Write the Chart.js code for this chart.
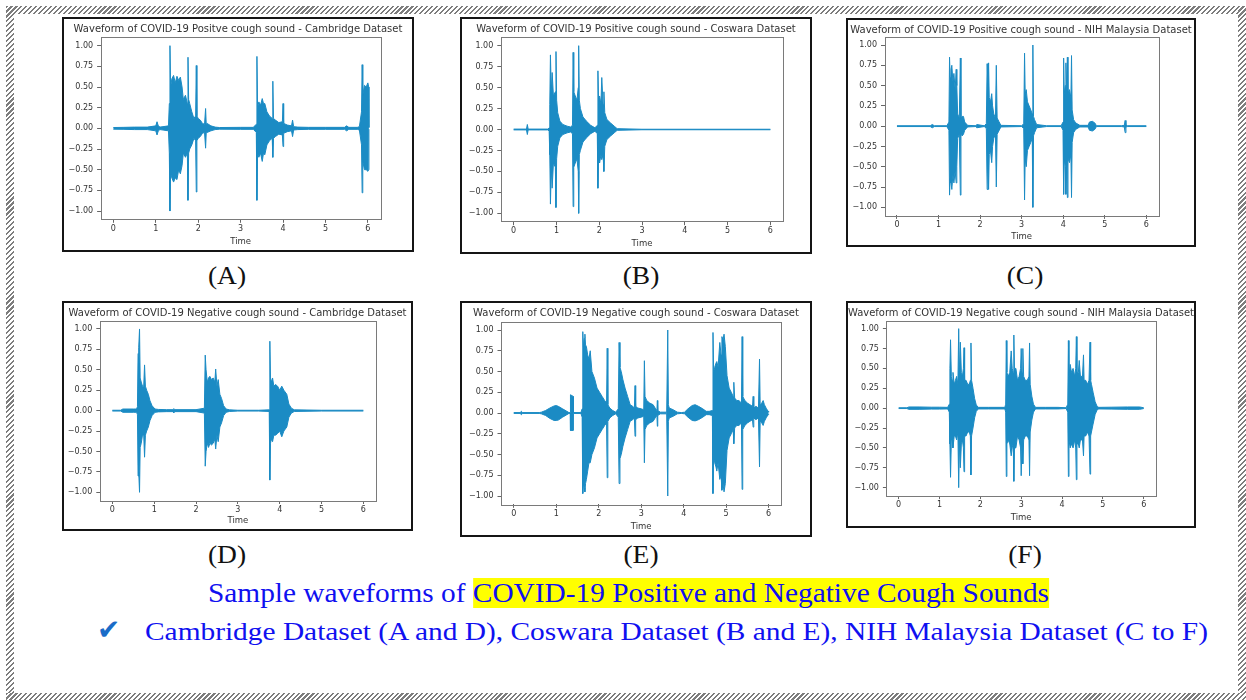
<!DOCTYPE html>
<html>
<head>
<meta charset="utf-8">
<script src="https://cdn.jsdelivr.net/npm/chart.js@4.4.1/dist/chart.umd.min.js"></script>
<style>
  body { margin: 0; width: 1246px; height: 700px; background: #fff; position: relative; overflow: hidden; }
  .hatch { position: absolute; background: repeating-linear-gradient(135deg, #7d7d7d 0 1.5px, #fff 1.5px 3.5px); }
  .panel { position: absolute; box-sizing: border-box; border: 2px solid #151515; background: #fff; }
  .panel canvas { display: block; }
  .txt { position: absolute; font-family: 'Liberation Serif', 'Times New Roman', serif; white-space: nowrap; line-height: 1; }
</style>
</head>
<body>
<div class="hatch" style="left:6px;top:6px;width:1240px;height:8px"></div>
<div class="hatch" style="left:6px;top:6px;width:8px;height:695px"></div>
<div class="hatch" style="left:1238px;top:6px;width:8px;height:695px"></div>
<div class="hatch" style="left:6px;top:693px;width:1240px;height:8px"></div>

<div id="line1" class="txt" style="left:208px;top:580.4px;font-size:27px;color:#1010f0;transform-origin:left center">Sample waveforms of <span style="background:#ffff00">COVID-19 Positive and Negative Cough Sounds</span></div>
<div class="txt" style="left:97px;top:616px;font-size:28px;color:#1a6cc8;font-family:'DejaVu Sans'">✔</div>
<div id="line2" class="txt" style="left:145px;top:618.6px;font-size:25.5px;color:#1010f0;transform-origin:left center">Cambridge Dataset (A and D), Coswara Dataset (B and E), NIH Malaysia Dataset (C to F)</div>

<script>
// axes
const xTickValues = [0, 1, 2, 3, 4, 5, 6];
const xTickLabels = ['0', '1', '2', '3', '4', '5', '6'];
const yTickValues = [-1, -0.75, -0.5, -0.25, 0, 0.25, 0.5, 0.75, 1];
const yTickLabels = ['\u22121.00', '\u22120.75', '\u22120.50', '\u22120.25', '0.00', '0.25', '0.50', '0.75', '1.00'];

// (A) Cambridge positive : enveloppe haute / basse du signal
const timeA = [
  0, 0.25, 0.5, 0.8, 1.0, 1.03, 1.06, 1.1, 1.3,
  1.32, 1.335, 1.35, 1.38, 1.42, 1.46, 1.5, 1.54, 1.58, 1.62,
  1.65, 1.7, 1.745, 1.76, 1.775, 1.8, 1.85, 1.9, 1.94, 1.955,
  1.97, 2.0, 2.05, 2.1, 2.15, 2.175, 2.19, 2.21, 2.3, 2.4,
  2.5, 3.0, 3.3,
  3.37, 3.385, 3.4, 3.43, 3.47, 3.51, 3.54, 3.57, 3.62, 3.68,
  3.745, 3.76, 3.775, 3.82, 3.9, 3.985, 4.0, 4.015, 4.1, 4.2,
  4.225, 4.25, 4.35, 4.6, 5.0, 5.45, 5.5, 5.55, 5.75,
  5.8, 5.85, 5.865, 5.88, 5.92, 5.96, 6.0, 6.02, 6.025
];
const upperA = [
  0.01, 0.012, 0.015, 0.015, 0.03, 0.08, 0.03, 0.015, 0.03,
  0.3, 1.0, 0.5, 0.6, 0.64, 0.55, 0.63, 0.58, 0.62, 0.5,
  0.35, 0.4, 0.3, 0.86, 0.35, 0.3, 0.2, 0.12, 0.15, 0.76,
  0.15, 0.12, 0.1, 0.06, 0.05, 0.24, 0.05, 0.06, 0.03, 0.015,
  0.01, 0.012, 0.012,
  0.05, 0.87, 0.25, 0.32, 0.28, 0.36, 0.3, 0.3, 0.2, 0.15,
  0.12, 0.57, 0.12, 0.1, 0.07, 0.08, 0.3, 0.06, 0.04, 0.03,
  0.1, 0.02, 0.015, 0.012, 0.012, 0.012, 0.03, 0.012, 0.012,
  0.02, 0.2, 0.77, 0.4, 0.52, 0.5, 0.55, 0.5, 0.01
];
const lowerA = [
  -0.01, -0.012, -0.015, -0.015, -0.03, -0.08, -0.03, -0.015, -0.03,
  -0.3, -1.0, -0.55, -0.6, -0.65, -0.6, -0.62, -0.5, -0.55, -0.45,
  -0.3, -0.35, -0.3, -0.87, -0.3, -0.25, -0.2, -0.12, -0.15, -0.77,
  -0.15, -0.12, -0.1, -0.06, -0.05, -0.24, -0.05, -0.05, -0.03, -0.015,
  -0.01, -0.012, -0.012,
  -0.05, -0.87, -0.3, -0.35, -0.3, -0.4, -0.3, -0.32, -0.2, -0.15,
  -0.12, -0.35, -0.12, -0.1, -0.07, -0.08, -0.22, -0.06, -0.04, -0.03,
  -0.1, -0.02, -0.015, -0.012, -0.012, -0.012, -0.03, -0.012, -0.012,
  -0.02, -0.2, -0.78, -0.4, -0.5, -0.5, -0.52, -0.5, -0.01
];

// (B) Coswara positive
const timeB = [
  0, 0.3, 0.32, 0.34, 0.8,
  0.83, 0.845, 0.86, 0.88, 0.9, 0.93, 0.975, 0.99, 1.005, 1.03, 1.08, 1.15, 1.25, 1.33,
  1.375, 1.39, 1.405, 1.44, 1.48, 1.51, 1.52, 1.535, 1.56, 1.62, 1.7, 1.8, 1.9,
  1.955, 1.97, 1.985, 2.01, 2.04, 2.06, 2.09, 2.11, 2.13, 2.18, 2.26, 2.35, 2.42, 3.0, 6.0
];
const upperB = [
  0.005, 0.005, 0.06, 0.005, 0.005,
  0.02, 0.3, 0.89, 0.45, 0.68, 0.4, 0.45, 0.93, 0.35, 0.2, 0.1, 0.06, 0.04, 0.03,
  0.05, 0.92, 0.45, 0.4, 0.35, 0.5, 1.0, 0.35, 0.25, 0.15, 0.1, 0.05, 0.02,
  0.05, 0.7, 0.35, 0.4, 0.3, 0.62, 0.3, 0.45, 0.2, 0.12, 0.08, 0.04, 0.01, 0.003, 0.003
];
const lowerB = [
  -0.005, -0.005, -0.06, -0.005, -0.005,
  -0.02, -0.3, -0.89, -0.45, -0.7, -0.4, -0.45, -0.93, -0.35, -0.2, -0.1, -0.06, -0.04, -0.03,
  -0.05, -0.92, -0.45, -0.4, -0.35, -0.5, -1.0, -0.3, -0.25, -0.15, -0.1, -0.05, -0.02,
  -0.05, -0.7, -0.35, -0.4, -0.3, -0.36, -0.3, -0.5, -0.2, -0.12, -0.08, -0.04, -0.01, -0.003, -0.003
];

// (C) NIH Malaysia positive
const timeC = [
  0, 0.8, 0.85, 0.9, 1.2,
  1.25, 1.265, 1.28, 1.3, 1.32, 1.345, 1.37, 1.4, 1.425, 1.44,
  1.46, 1.5, 1.525, 1.54, 1.57, 1.6, 1.63, 1.7, 1.9, 1.92, 2.1,
  2.15, 2.17, 2.19, 2.205, 2.22, 2.25, 2.28, 2.3, 2.33, 2.37, 2.39, 2.41, 2.45, 2.5, 3.0,
  3.05, 3.07, 3.085, 3.11, 3.14, 3.18, 3.22, 3.255, 3.27, 3.285, 3.31, 3.36, 3.6, 3.95,
  3.995, 4.01, 4.025, 4.05, 4.065, 4.085, 4.1, 4.115, 4.15, 4.185,
  4.2, 4.215, 4.25, 4.3, 4.4, 4.6, 4.63, 4.7, 4.76, 4.8, 5.4, 5.47, 5.49, 5.51, 5.55, 6.0
];
const upperC = [
  0.005, 0.005, 0.02, 0.005, 0.005,
  0.05, 0.85, 0.6, 0.7, 0.75, 0.55, 0.65, 0.45, 0.7, 0.5,
  0.15, 0.1, 0.84, 0.1, 0.12, 0.12, 0.05, 0.01, 0.005, 0.02, 0.005,
  0.03, 0.77, 0.5, 0.78, 0.35, 0.3, 0.4, 0.25, 0.15, 0.1, 0.75, 0.1, 0.06, 0.01, 0.005,
  0.03, 0.9, 0.4, 0.45, 0.3, 0.25, 0.2, 0.15, 1.0, 0.12, 0.08, 0.02, 0.005, 0.005,
  0.05, 0.84, 0.4, 0.5, 0.78, 0.45, 0.85, 0.4, 0.45, 0.35,
  0.87, 0.2, 0.08, 0.04, 0.01, 0.01, 0.05, 0.06, 0.04, 0.005, 0.005, 0.01, 0.07, 0.01, 0.005, 0.005
];
const lowerC = [
  -0.005, -0.005, -0.02, -0.005, -0.005,
  -0.05, -0.85, -0.65, -0.7, -0.78, -0.6, -0.7, -0.55, -0.7, -0.5,
  -0.15, -0.1, -0.85, -0.1, -0.12, -0.1, -0.05, -0.01, -0.005, -0.02, -0.005,
  -0.03, -0.78, -0.5, -0.78, -0.35, -0.3, -0.45, -0.25, -0.15, -0.1, -0.75, -0.1, -0.06, -0.01, -0.005,
  -0.03, -0.91, -0.4, -0.5, -0.3, -0.25, -0.2, -0.15, -1.0, -0.12, -0.08, -0.02, -0.005, -0.005,
  -0.05, -0.84, -0.4, -0.5, -0.84, -0.45, -0.88, -0.4, -0.45, -0.35,
  -0.88, -0.2, -0.08, -0.04, -0.01, -0.01, -0.05, -0.06, -0.04, -0.005, -0.005, -0.01, -0.08, -0.01, -0.005, -0.005
];

// (D) Cambridge negative
const timeD = [
  0, 0.2, 0.25, 0.5, 0.58,
  0.6, 0.615, 0.63, 0.65, 0.665, 0.69, 0.72, 0.75, 0.77, 0.79,
  0.82, 0.86, 0.9, 0.95, 1.02, 1.1,
  1.3, 1.45, 1.47, 1.49, 2.0,
  2.2, 2.22, 2.24, 2.27, 2.3, 2.33, 2.37, 2.41, 2.45, 2.47,
  2.5, 2.53, 2.57, 2.61, 2.66, 2.72, 2.8,
  3.0, 3.5, 3.75,
  3.765, 3.78, 3.8, 3.83, 3.86, 3.9, 3.95, 4.0, 4.05, 4.1,
  4.17, 4.22, 4.28, 4.35, 5.0, 6.0
];
const upperD = [
  0.005, 0.005, 0.02, 0.02, 0.02,
  0.05, 0.7, 0.77, 1.0, 0.4, 0.35, 0.3, 0.3, 0.56, 0.3,
  0.25, 0.2, 0.12, 0.06, 0.02, 0.015,
  0.012, 0.012, 0.025, 0.012, 0.012,
  0.03, 0.68, 0.5, 0.35, 0.4, 0.42, 0.38, 0.4, 0.35, 0.51,
  0.3, 0.38, 0.2, 0.15, 0.06, 0.02, 0.01,
  0.005, 0.005, 0.01,
  0.85, 0.4, 0.35, 0.4, 0.3, 0.32, 0.3, 0.25, 0.3, 0.25,
  0.2, 0.08, 0.03, 0.01, 0.005, 0.005
];
const lowerD = [
  -0.005, -0.005, -0.02, -0.02, -0.02,
  -0.05, -0.8, -0.75, -1.0, -0.45, -0.4, -0.3, -0.3, -0.57, -0.3,
  -0.25, -0.2, -0.12, -0.06, -0.02, -0.015,
  -0.012, -0.012, -0.025, -0.012, -0.012,
  -0.03, -0.68, -0.5, -0.4, -0.45, -0.4, -0.42, -0.4, -0.35, -0.47,
  -0.3, -0.38, -0.2, -0.15, -0.06, -0.02, -0.01,
  -0.005, -0.005, -0.01,
  -0.85, -0.4, -0.35, -0.38, -0.3, -0.3, -0.28, -0.25, -0.32, -0.25,
  -0.2, -0.08, -0.03, -0.01, -0.005, -0.005
];

// (E) Coswara negative
const timeE = [
  0, 0.15, 0.18, 0.21, 0.6,
  0.65, 0.75, 0.85, 0.95, 1.0, 1.05, 1.15, 1.25, 1.3,
  1.33, 1.335, 1.4, 1.405, 1.58,
  1.61, 1.625, 1.64, 1.66, 1.675, 1.69, 1.71, 1.74, 1.77, 1.8,
  1.84, 1.9, 1.96, 2.02, 2.08, 2.14, 2.185, 2.2, 2.215, 2.26,
  2.33, 2.4,
  2.46, 2.48, 2.5, 2.53, 2.57, 2.62, 2.68, 2.74, 2.8, 2.84,
  2.855, 2.87, 2.92, 3.0, 3.06, 3.075, 3.09, 3.13, 3.2, 3.28,
  3.34, 3.37, 3.38, 3.39, 3.45, 3.6, 3.625, 3.64, 3.66, 3.75,
  3.85, 3.95,
  4.02, 4.1, 4.2, 4.27, 4.35, 4.45, 4.53, 4.6,
  4.675, 4.69, 4.705, 4.73, 4.76, 4.78, 4.81, 4.85, 4.88, 4.9,
  4.925, 4.95, 4.98, 5.02, 5.07, 5.12, 5.165, 5.18, 5.2, 5.25,
  5.3, 5.36, 5.375, 5.39, 5.44, 5.5, 5.56, 5.62, 5.635, 5.65,
  5.7, 5.76, 5.785, 5.8, 5.84, 5.87, 5.9, 5.95, 5.99, 6.0
];
const upperE = [
  0.005, 0.005, 0.02, 0.005, 0.005,
  0.01, 0.03, 0.06, 0.085, 0.09, 0.08, 0.05, 0.02, 0.005,
  0.005, 0.22, 0.2, 0.005, 0.005,
  0.05, 0.98, 0.8, 0.9, 0.95, 0.82, 0.8, 0.7, 0.65, 0.75,
  0.5, 0.42, 0.3, 0.25, 0.2, 0.15, 0.12, 0.78, 0.1, 0.06,
  0.03, 0.01,
  0.05, 0.85, 0.55, 0.5, 0.4, 0.3, 0.2, 0.1, 0.08, 0.06,
  0.33, 0.08, 0.06, 0.05, 0.04, 0.63, 0.2, 0.15, 0.12, 0.1,
  0.05, 0.03, 0.15, 0.03, 0.01, 0.01, 1.0, 0.1, 0.06, 0.04,
  0.01, 0.005,
  0.01, 0.05, 0.09, 0.1, 0.08, 0.05, 0.02, 0.02,
  0.03, 0.97, 0.5, 0.55, 0.6, 0.62, 0.55, 0.85, 0.7, 0.92,
  0.88, 0.95, 0.8, 0.45, 0.3, 0.25, 0.2, 0.37, 0.18, 0.15,
  0.15, 0.12, 0.92, 0.2, 0.15, 0.12, 0.1, 0.08, 0.2, 0.06,
  0.08, 0.06, 0.65, 0.1, 0.12, 0.15, 0.1, 0.05, 0.02, 0.01
];
const lowerE = [
  -0.005, -0.005, -0.02, -0.005, -0.005,
  -0.01, -0.03, -0.065, -0.09, -0.09, -0.085, -0.05, -0.02, -0.005,
  -0.005, -0.21, -0.21, -0.005, -0.005,
  -0.05, -0.97, -0.85, -0.9, -0.95, -0.85, -0.8, -0.7, -0.6, -0.6,
  -0.5, -0.42, -0.3, -0.25, -0.2, -0.15, -0.12, -0.78, -0.1, -0.06,
  -0.03, -0.01,
  -0.05, -0.85, -0.55, -0.5, -0.4, -0.3, -0.2, -0.1, -0.08, -0.06,
  -0.28, -0.08, -0.06, -0.05, -0.04, -0.6, -0.2, -0.15, -0.12, -0.1,
  -0.05, -0.03, -0.16, -0.03, -0.01, -0.01, -1.0, -0.1, -0.06, -0.04,
  -0.01, -0.005,
  -0.01, -0.05, -0.09, -0.095, -0.08, -0.05, -0.02, -0.02,
  -0.03, -0.97, -0.55, -0.6, -0.65, -0.7, -0.6, -0.8, -0.75, -0.93,
  -0.85, -0.95, -0.85, -0.45, -0.3, -0.25, -0.2, -0.37, -0.18, -0.15,
  -0.15, -0.12, -0.92, -0.2, -0.15, -0.12, -0.1, -0.08, -0.17, -0.06,
  -0.08, -0.06, -0.65, -0.1, -0.12, -0.15, -0.1, -0.05, -0.02, -0.01
];

// (F) NIH Malaysia negative
const timeF = [
  0, 0.2, 0.25, 0.5, 0.8, 1.0, 1.2,
  1.24, 1.255, 1.27, 1.29, 1.31, 1.33, 1.36, 1.39, 1.42, 1.45,
  1.47, 1.49, 1.51, 1.535, 1.56, 1.585, 1.6, 1.615, 1.65, 1.69,
  1.73, 1.755, 1.77, 1.785, 1.82, 1.86, 1.9, 1.95,
  2.2, 2.6,
  2.62, 2.635, 2.65, 2.68, 2.72, 2.755, 2.78, 2.805, 2.82, 2.835,
  2.87, 2.91, 2.95, 2.985, 3.0, 3.02, 3.04, 3.06, 3.1, 3.15,
  3.19, 3.205, 3.22, 3.26, 3.3, 3.35,
  3.6, 3.9, 4.1,
  4.14, 4.155, 4.17, 4.2, 4.23, 4.27, 4.31, 4.335, 4.35, 4.365,
  4.4, 4.42, 4.45, 4.5, 4.525, 4.54, 4.58, 4.62, 4.66, 4.685,
  4.7, 4.72, 4.76, 4.81, 4.86, 4.9,
  5.2, 5.6, 5.9, 6.0
];
const upperF = [
  0.005, 0.005, 0.015, 0.015, 0.012, 0.012, 0.01,
  0.05, 0.5, 0.86, 0.4, 0.35, 0.45, 0.3, 0.35, 0.4, 0.3,
  1.0, 0.4, 0.83, 0.45, 0.4, 0.5, 0.76, 0.35, 0.35, 0.3,
  0.3, 0.35, 0.82, 0.35, 0.25, 0.12, 0.04, 0.01,
  0.01, 0.01,
  0.05, 0.85, 0.45, 0.4, 0.45, 0.72, 0.5, 0.45, 0.92, 0.5,
  0.5, 0.35, 0.4, 0.5, 0.75, 0.45, 0.75, 0.4, 0.35, 0.35,
  0.4, 0.82, 0.3, 0.15, 0.05, 0.01,
  0.01, 0.01, 0.005,
  0.05, 0.85, 0.4, 0.55, 0.45, 0.5, 0.4, 0.5, 0.9, 0.45,
  0.45, 0.6, 0.4, 0.4, 0.67, 0.35, 0.35, 0.3, 0.35, 0.83,
  0.35, 0.3, 0.2, 0.08, 0.02, 0.01,
  0.012, 0.015, 0.015, 0.005
];
const lowerF = [
  -0.005, -0.005, -0.015, -0.015, -0.012, -0.012, -0.01,
  -0.05, -0.45, -0.87, -0.4, -0.4, -0.5, -0.35, -0.35, -0.4, -0.3,
  -1.0, -0.4, -0.75, -0.45, -0.4, -0.5, -0.8, -0.35, -0.35, -0.3,
  -0.3, -0.35, -0.84, -0.35, -0.25, -0.12, -0.04, -0.01,
  -0.01, -0.01,
  -0.05, -0.86, -0.45, -0.4, -0.45, -0.6, -0.5, -0.45, -0.92, -0.5,
  -0.5, -0.35, -0.4, -0.5, -0.85, -0.45, -0.7, -0.4, -0.35, -0.35,
  -0.4, -0.85, -0.3, -0.15, -0.05, -0.01,
  -0.01, -0.01, -0.005,
  -0.05, -0.86, -0.4, -0.5, -0.45, -0.5, -0.4, -0.5, -0.9, -0.45,
  -0.45, -0.5, -0.4, -0.4, -0.6, -0.35, -0.35, -0.3, -0.35, -0.83,
  -0.35, -0.3, -0.2, -0.08, -0.02, -0.01,
  -0.012, -0.015, -0.015, -0.005
];

const WAVE = '#1b8bc4';
const INK = '#333';

// frame = cadre noir [left, top, width, height], plot = zone du tracé [left, top, right, bottom]
const panels = [
  { frame: [62, 17, 352, 235], plot: [100.6, 37.4, 380.6, 219.3], caption: '(A)',
    title: 'Waveform of COVID-19 Positve cough sound - Cambridge Dataset', t: timeA, hi: upperA, lo: lowerA },
  { frame: [460, 17, 352, 237], plot: [500.8, 37.3, 783.2, 221.7], caption: '(B)',
    title: 'Waveform of COVID-19 Positive cough sound - Coswara Dataset', t: timeB, hi: upperB, lo: lowerB },
  { frame: [846, 18, 350, 229], plot: [884.5, 36.9, 1158.8, 215.4], caption: '(C)',
    title: 'Waveform of COVID-19 Positive cough sound - NIH Malaysia Dataset', t: timeC, hi: upperC, lo: lowerC },
  { frame: [62, 301, 351, 230], plot: [99.8, 320.8, 375.9, 500.5], caption: '(D)',
    title: 'Waveform of COVID-19 Negative cough sound - Cambridge Dataset', t: timeD, hi: upperD, lo: lowerD },
  { frame: [460, 301, 352, 236], plot: [501, 321.7, 781.4, 504.3], caption: '(E)',
    title: 'Waveform of COVID-19 Negative cough sound - Coswara Dataset', t: timeE, hi: upperE, lo: lowerE },
  { frame: [846, 301, 350, 227], plot: [886.4, 320.7, 1156, 495.6], caption: '(F)',
    title: 'Waveform of COVID-19 Negative cough sound - NIH Malaysia Dataset', t: timeF, hi: upperF, lo: lowerF }
];
const captionPos = [[227, 284], [641, 284], [1025, 284], [227, 563], [641, 563], [1025, 563]];

// cadre gris autour de la zone du tracé (comme matplotlib)
const axesBox = {
  id: 'axesBox',
  afterDatasetsDraw(chart) {
    const a = chart.chartArea;
    const c = chart.ctx;
    c.save();
    c.strokeStyle = '#7a7a7a';
    c.lineWidth = 1;
    c.strokeRect(Math.round(a.left) + 0.5, Math.round(a.top) + 0.5, Math.round(a.right - a.left), Math.round(a.bottom - a.top));
    c.restore();
  }
};

const tickFont = { family: 'DejaVu Sans', size: 8, lineHeight: 1.2 };

panels.forEach((p, k) => {
  const [fl, ft, fw, fh] = p.frame;
  const [pl, pt, pr, pb] = p.plot;
  const div = document.createElement('div');
  div.className = 'panel';
  div.style.left = fl + 'px';
  div.style.top = ft + 'px';
  div.style.width = fw + 'px';
  div.style.height = fh + 'px';
  const canvas = document.createElement('canvas');
  canvas.width = fw - 4;
  canvas.height = fh - 4;
  div.appendChild(canvas);
  document.body.appendChild(div);

  const innerL = fl + 2, innerT = ft + 2, innerR = fl + fw - 2, innerB = ft + fh - 2;
  const yAxisW = pl - innerL;
  const rightW = innerR - pr;
  const xAxisH = innerB - pb;
  const titleBlock = pt - innerT;

  new Chart(canvas, {
    type: 'line',
    data: {
      datasets: [
        { data: p.t.map((x, i) => ({ x: x, y: p.hi[i] })), borderColor: WAVE, backgroundColor: WAVE,
          borderWidth: 1, pointRadius: 0, tension: 0, fill: '+1' },
        { data: p.t.map((x, i) => ({ x: x, y: p.lo[i] })), borderColor: WAVE, backgroundColor: WAVE,
          borderWidth: 1, pointRadius: 0, tension: 0, fill: false }
      ]
    },
    options: {
      responsive: false,
      animation: false,
      events: [],
      layout: { padding: 0 },
      plugins: {
        legend: { display: false },
        tooltip: { enabled: false },
        title: {
          display: true, text: p.title, color: INK,
          font: { family: 'DejaVu Sans', size: 10, weight: 'normal', lineHeight: 1.2 },
          padding: { top: 4, bottom: titleBlock - 16 }
        }
      },
      scales: {
        x: {
          type: 'linear', min: -0.3, max: 6.3,
          afterBuildTicks: s => { s.ticks = xTickValues.map(v => ({ value: v })); },
          afterFit: s => { s.height = xAxisH; },
          ticks: { callback: v => xTickLabels[xTickValues.indexOf(v)], color: INK, font: tickFont, padding: 1, maxRotation: 0, autoSkip: false },
          grid: { display: true, drawOnChartArea: false, drawTicks: true, tickLength: 3.5, color: '#666' },
          border: { display: false },
          title: { display: true, text: 'Time', color: INK, font: { family: 'DejaVu Sans', size: 8.5, lineHeight: 1.2 }, padding: { top: 0, bottom: 3.4 } }
        },
        y: {
          type: 'linear', min: -1.1, max: 1.1,
          afterBuildTicks: s => { s.ticks = yTickValues.map(v => ({ value: v })); },
          afterFit: s => { s.width = yAxisW; },
          ticks: { callback: v => yTickLabels[yTickValues.indexOf(v)], color: INK, font: tickFont, padding: 4, autoSkip: false },
          grid: { display: true, drawOnChartArea: false, drawTicks: true, tickLength: 3.5, color: '#666' },
          border: { display: false }
        },
        // axe vide à droite : réserve la marge sans décentrer le titre
        yRight: {
          type: 'linear', position: 'right',
          afterFit: s => { s.width = rightW; },
          ticks: { display: false },
          grid: { display: false },
          border: { display: false }
        }
      }
    },
    plugins: [axesBox]
  });

  // légende (A)..(F) sous chaque figure
  const cap = document.createElement('div');
  cap.className = 'txt';
  cap.textContent = p.caption;
  cap.style.fontSize = '25px';
  cap.style.color = '#111';
  cap.style.width = '80px';
  cap.style.textAlign = 'center';
  cap.style.left = (captionPos[k][0] - 40) + 'px';
  cap.style.top = (captionPos[k][1] - 0.8375 * 25) + 'px';
  cap.style.transform = 'scaleX(1.1)';
  document.body.appendChild(cap);
});

// ajuste la largeur des deux lignes de texte du bas
function fitWidth(id, target) {
  const el = document.getElementById(id);
  const w = el.getBoundingClientRect().width;
  if (w > 0) el.style.transform = 'scaleX(' + (target / w) + ')';
}
fitWidth('line1', 841);
fitWidth('line2', 1063);
</script>
</body>
</html>
